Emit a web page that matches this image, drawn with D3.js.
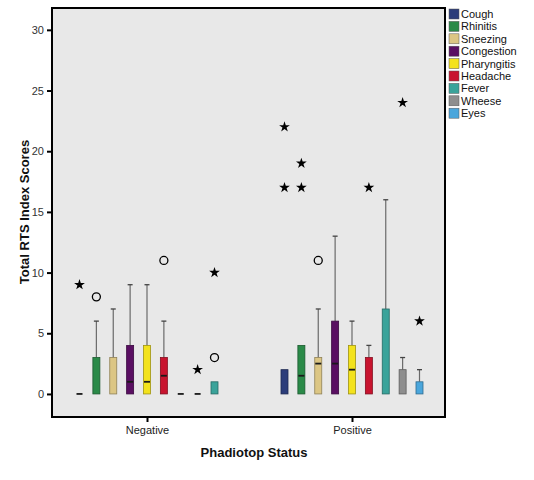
<!DOCTYPE html>
<html><head><meta charset="utf-8">
<script src="https://cdn.jsdelivr.net/npm/d3@7"></script>
<style>
body{margin:0;background:#fff;}
svg{display:block;font-family:"Liberation Sans",Arial,sans-serif;}
</style></head>
<body><svg id="c" width="534" height="480"></svg>
<script>
const groups = ["Negative", "Positive"];
const categories = ["Cough","Rhinitis","Sneezing","Congestion","Pharyngitis","Headache","Fever","Wheese","Eyes"];
const colors = ["#2c3d7a","#2a8a48","#dcc684","#5a0f62","#f3e21c","#c8142f","#3aa39a","#8e8e8e","#4aa6dc"];
// [min, q1, median, q3, max]
const negativeStats = [[0,0,0,0,0],[0,0,0,3,6],[0,0,0,3,7],[0,0,1,4,9],[0,0,1,4,9],[0,0,1.5,3,6],[0,0,0,0,0],[0,0,0,0,0],[0,0,0,1,1]];
const positiveStats = [[0,0,0,2,2],[0,0,1.5,4,4],[0,0,2.5,3,7],[0,0,2.5,6,13],[0,0,2,4,6],[0,0,0,3,4],[0,0,0,7,16],[0,0,0,2,3],[0,0,0,1,2]];
// outliers: circles (mild) and stars (extreme)
const negativeCircles = [[],[8],[],[],[],[11],[],[],[3]];
const negativeStars   = [[9],[],[],[],[],[],[],[2],[10]];
const positiveCircles = [[],[],[11],[],[],[],[],[],[]];
const positiveStars   = [[22,17],[19,17],[],[],[],[17],[],[24],[6]];
const yTicks = [0,5,10,15,20,25,30];
// fill used for the negative "Eyes" box as drawn in the source
const negativeEyesFill = "Fever";

const svg = d3.select("#c");
const L = 52, R = 445, T = 8, B = 417;
const y = d3.scaleLinear().domain([-1.9, 31.8]).range([B, T]);
const xg = d3.scalePoint().domain(groups).range([147, 352]);
const xc = d3.scalePoint().domain(categories).range([-67.5, 67.5]);
const color = d3.scaleOrdinal().domain(categories).range(colors);

svg.append("rect").attr("x", L).attr("y", T).attr("width", R - L).attr("height", B - T)
  .attr("fill", "#e8e8e8");

const statsBy = {Negative: negativeStats, Positive: positiveStats};
const circBy = {Negative: negativeCircles, Positive: positiveCircles};
const starBy = {Negative: negativeStars, Positive: positiveStars};
const bw = 7;

groups.forEach(g => {
  categories.forEach((c, i) => {
    const [mn, q1, md, q3, mx] = statsBy[g][i];
    const cx = xg(g) + xc(c);
    const fill = (g === "Negative" && c === "Eyes") ? color(negativeEyesFill) : color(c);
    const gg = svg.append("g");
    if (mx > q3) {
      gg.append("line").attr("x1", cx).attr("x2", cx).attr("y1", y(q3)).attr("y2", y(mx))
        .attr("stroke", "#6a6a6a").attr("stroke-width", 1.2);
      gg.append("line").attr("x1", cx - 2.5).attr("x2", cx + 2.5).attr("y1", y(mx)).attr("y2", y(mx))
        .attr("stroke", "#444").attr("stroke-width", 1.3);
    }
    if (mn < q1) {
      gg.append("line").attr("x1", cx).attr("x2", cx).attr("y1", y(q1)).attr("y2", y(mn))
        .attr("stroke", "#6a6a6a").attr("stroke-width", 1.2);
    }
    if (q3 > q1) {
      gg.append("rect").attr("x", cx - bw / 2).attr("y", y(q3)).attr("width", bw)
        .attr("height", y(q1) - y(q3)).attr("fill", fill)
        .attr("stroke", d3.color(fill).darker(1.2)).attr("stroke-width", 0.8);
    }
    if (!(q3 > q1 && md === q1)) {
      gg.append("line").attr("x1", cx - bw / 2 + 0.5).attr("x2", cx + bw / 2 - 0.5)
        .attr("y1", y(md)).attr("y2", y(md)).attr("stroke", "#1a1a1a").attr("stroke-width", 1.8);
    }
    circBy[g][i].forEach(v => {
      gg.append("circle").attr("cx", cx).attr("cy", y(v)).attr("r", 4)
        .attr("fill", "none").attr("stroke", "#000").attr("stroke-width", 1.3);
    });
    starBy[g][i].forEach(v => {
      gg.append("path").attr("d", d3.symbol(d3.symbolStar, 36)())
        .attr("transform", `translate(${cx},${y(v)})`).attr("fill", "#000");
    });
  });
});

// frame
svg.append("rect").attr("x", L).attr("y", T).attr("width", R - L).attr("height", B - T)
  .attr("fill", "none").attr("stroke", "#000").attr("stroke-width", 2);

// y axis
const ya = svg.append("g").attr("transform", `translate(${L},0)`)
  .call(d3.axisLeft(y).tickValues(yTicks).tickSize(5).tickPadding(3).tickFormat(d3.format("d")));
ya.select(".domain").remove();
ya.selectAll("line").attr("stroke", "#000").attr("stroke-width", 2);
ya.selectAll("text").attr("font-size", 11).attr("fill", "#333").attr("font-family", "Liberation Sans, Arial, sans-serif");

// x axis
const xa = svg.append("g").attr("transform", `translate(0,${B})`)
  .call(d3.axisBottom(xg).tickSize(5).tickPadding(4));
xa.select(".domain").remove();
xa.selectAll("line").attr("stroke", "#000").attr("stroke-width", 2);
xa.selectAll("text").attr("font-size", 11).attr("fill", "#222").attr("font-family", "Liberation Sans, Arial, sans-serif");

svg.append("text").attr("x", 254).attr("y", 457).attr("text-anchor", "middle")
  .attr("font-size", 13).attr("font-weight", "bold").attr("fill", "#111").text("Phadiotop Status");
svg.append("text").attr("transform", "translate(29,212) rotate(-90)").attr("text-anchor", "middle")
  .attr("font-size", 13).attr("font-weight", "bold").attr("fill", "#111").text("Total RTS Index Scores");

// legend
const lg = svg.append("g");
categories.forEach((c, i) => {
  const yy = 14 + i * 12.4;
  lg.append("rect").attr("x", 449).attr("y", yy - 5).attr("width", 10).attr("height", 10)
    .attr("fill", color(c)).attr("stroke", "#555").attr("stroke-width", 0.5);
  lg.append("text").attr("x", 461).attr("y", yy + 4).attr("font-size", 11).attr("fill", "#111").text(c);
});
</script></body></html>
